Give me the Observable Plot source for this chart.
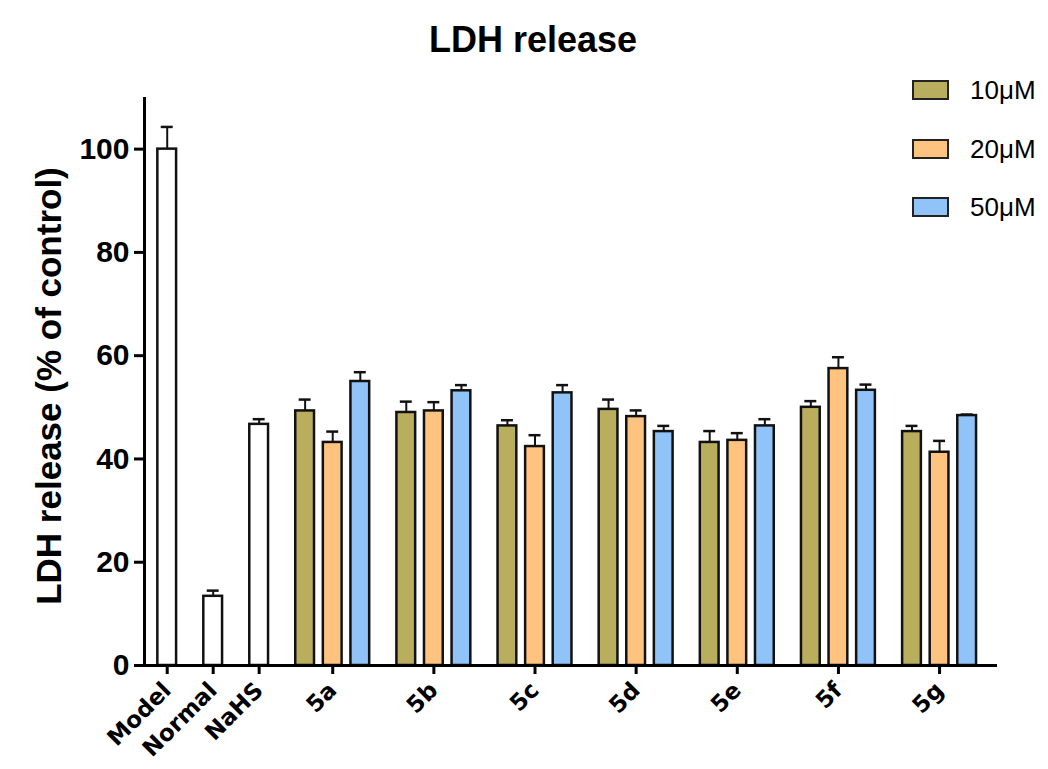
<!DOCTYPE html>
<html><head><meta charset="utf-8">
<script src="https://cdn.jsdelivr.net/npm/d3@7"></script>
<script src="https://cdn.jsdelivr.net/npm/@observablehq/plot@0.6"></script>
<style>
body{margin:0;background:#fff;}
#wrap{position:relative;width:1048px;height:769px;font-family:"Liberation Sans",Arial,sans-serif;color:#000;}
#title{position:absolute;left:0;width:1066px;top:22px;line-height:36px;text-align:center;font-weight:bold;font-size:36px;}
#ylab{position:absolute;left:48px;top:386px;transform:translate(-50%,-50%) rotate(-90deg);white-space:nowrap;font-weight:bold;font-size:35px;line-height:35px;}
#legend{position:absolute;left:912px;top:80px;display:flex;flex-direction:column;gap:38.5px;}
.row{display:flex;align-items:center;height:20px;}
.sw{width:37px;height:20px;box-sizing:border-box;border:2px solid #222;margin-right:21px;}
.lt{font-size:26px;line-height:20px;}
#chart{position:absolute;left:0;top:0;}
</style></head>
<body><div id="wrap"><div id="chart"></div><div id="title"></div><div id="ylab"></div><div id="legend"></div></div>
<script>
const title = "LDH release";
const yLabel = "LDH release (% of control)";
const controls = ["Model", "Normal", "NaHS"];
const controlMeans = [100, 13.4, 46.7];
const controlErr = [4.3, 1.1, 1.0];
const groups = ["5a", "5b", "5c", "5d", "5e", "5f", "5g"];
const conc = ["10μM", "20μM", "50μM"];
const mean10 = [49.3, 49.0, 46.4, 49.6, 43.2, 50.0, 45.3];
const err10 = [2.2, 2.1, 1.1, 1.9, 2.2, 1.2, 1.1];
const mean20 = [43.2, 49.3, 42.4, 48.2, 43.6, 57.5, 41.3];
const err20 = [2.1, 1.7, 2.2, 1.2, 1.4, 2.2, 2.2];
const mean50 = [55.0, 53.2, 52.8, 45.3, 46.4, 53.3, 48.4];
const err50 = [1.8, 1.1, 1.5, 1.1, 1.3, 1.1, 0.2];
const yTicks = [0, 20, 40, 60, 80, 100];
const colors = ["#ffffff", "#b9ae5e", "#fec47f", "#90c3f7"];

const means = [mean10, mean20, mean50];
const errs = [err10, err20, err50];
// slot layout: single control bars 5 slots apart, grouped bars 3 slots apart
const data = [];
controls.forEach((c, i) => data.push({pos: i * 5, mean: controlMeans[i], err: controlErr[i], series: "control"}));
groups.forEach((g, gi) => conc.forEach((c, k) => data.push({pos: 15 + 11 * gi + 3 * k, mean: means[k][gi], err: errs[k][gi], series: c})));
const tickPos = [...controls.map((c, i) => i * 5), ...groups.map((g, gi) => 18 + 11 * gi)];
const tickLab = new Map(tickPos.map((p, i) => [p, [...controls, ...groups][i]]));
const xDom = [-2.47, 90.3];
const hw = 1.02, cap = 0.65;

const chart = Plot.plot({
  width: 1048, height: 769,
  marginLeft: 144, marginRight: 51, marginTop: 97, marginBottom: 104,
  x: {type: "linear", domain: xDom},
  y: {domain: [0, 110]},
  color: {domain: ["control", ...conc], range: colors},
  style: {fontFamily: "Liberation Sans, Arial, sans-serif", background: "transparent", overflow: "visible"},
  marks: [
    Plot.rect(data, {x1: d => d.pos - hw, x2: d => d.pos + hw, y1: 0, y2: "mean", fill: "series", stroke: "#111", strokeWidth: 2.5}),
    Plot.ruleX(data, {x: "pos", y1: "mean", y2: d => d.mean + d.err, stroke: "#111", strokeWidth: 2}),
    Plot.ruleY(data, {y: d => d.mean + d.err, x1: d => d.pos - cap, x2: d => d.pos + cap, stroke: "#111", strokeWidth: 2.5}),
    Plot.ruleX([xDom[0]], {stroke: "#000", strokeWidth: 3}),
    Plot.ruleY([0], {stroke: "#000", strokeWidth: 3}),
    Plot.axisY({ticks: yTicks, tickSize: 10, tickPadding: 5, strokeWidth: 3, fontSize: 30, fontWeight: "bold", label: null}),
    Plot.axisX({ticks: tickPos, tickFormat: d => tickLab.get(d), tickSize: 9, tickPadding: 12, tickRotate: -45, strokeWidth: 3,
      fontSize: 23, fontWeight: "bold", fontFamily: "DejaVu Sans, Verdana, sans-serif", label: null})
  ]
});
document.getElementById("chart").append(chart);
document.getElementById("title").textContent = title;
document.getElementById("ylab").textContent = yLabel;
const leg = document.getElementById("legend");
conc.forEach((c, k) => {
  const row = document.createElement("div"); row.className = "row";
  const sw = document.createElement("div"); sw.className = "sw"; sw.style.background = colors[k + 1];
  const t = document.createElement("span"); t.className = "lt"; t.textContent = c;
  row.append(sw, t); leg.append(row);
});
</script></body></html>
